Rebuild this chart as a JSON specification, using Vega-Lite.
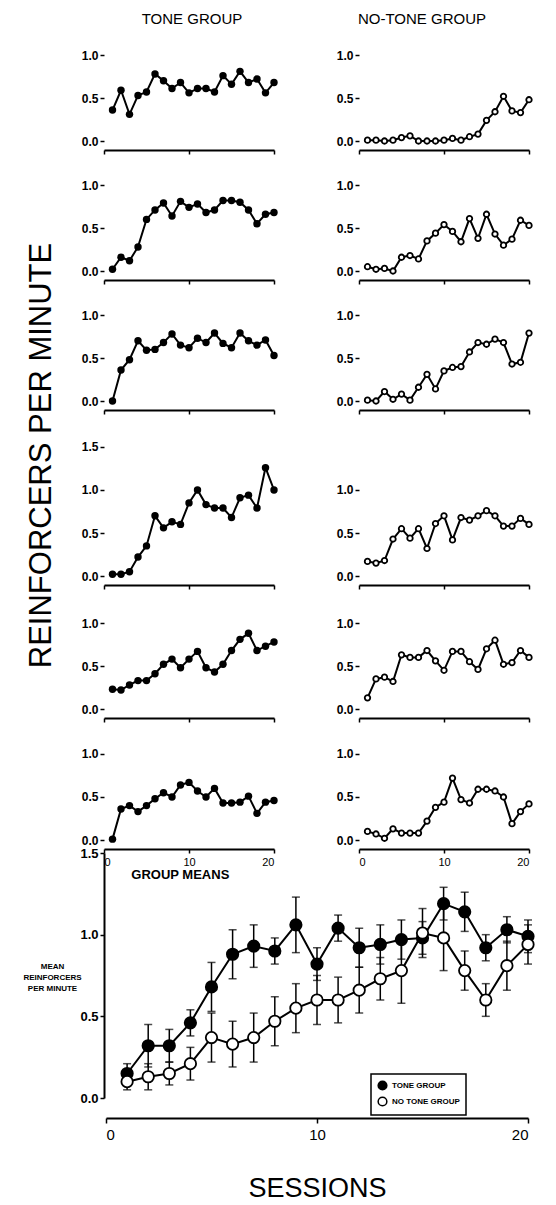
{
"$schema": "https://vega.github.io/schema/vega-lite/v6.json",
"padding": {"left": 22, "top": 12, "right": 5, "bottom": 0},
"background": "white",
"columns": 2,
"align": "each",
"bounds": "flush",
"spacing": {"row": 13, "column": 85},
"datasets": {
"ind": [
{"s":"A2","x":1,"v":0.36},{"s":"A2","x":2,"v":0.59},{"s":"A2","x":3,"v":0.31},{"s":"A2","x":4,"v":0.53},{"s":"A2","x":5,"v":0.57},{"s":"A2","x":6,"v":0.78},{"s":"A2","x":7,"v":0.70},{"s":"A2","x":8,"v":0.61},{"s":"A2","x":9,"v":0.68},{"s":"A2","x":10,"v":0.56},{"s":"A2","x":11,"v":0.61},{"s":"A2","x":12,"v":0.61},{"s":"A2","x":13,"v":0.57},{"s":"A2","x":14,"v":0.76},{"s":"A2","x":15,"v":0.66},{"s":"A2","x":16,"v":0.81},{"s":"A2","x":17,"v":0.68},{"s":"A2","x":18,"v":0.72},{"s":"A2","x":19,"v":0.56},{"s":"A2","x":20,"v":0.68},
{"s":"A4","x":1,"v":0.01},{"s":"A4","x":2,"v":0.01},{"s":"A4","x":3,"v":0.0},{"s":"A4","x":4,"v":0.01},{"s":"A4","x":5,"v":0.04},{"s":"A4","x":6,"v":0.06},{"s":"A4","x":7,"v":0.0},{"s":"A4","x":8,"v":0.0},{"s":"A4","x":9,"v":0.0},{"s":"A4","x":10,"v":0.01},{"s":"A4","x":11,"v":0.03},{"s":"A4","x":12,"v":0.01},{"s":"A4","x":13,"v":0.05},{"s":"A4","x":14,"v":0.08},{"s":"A4","x":15,"v":0.24},{"s":"A4","x":16,"v":0.34},{"s":"A4","x":17,"v":0.52},{"s":"A4","x":18,"v":0.35},{"s":"A4","x":19,"v":0.33},{"s":"A4","x":20,"v":0.48},
{"s":"A7","x":1,"v":0.02},{"s":"A7","x":2,"v":0.16},{"s":"A7","x":3,"v":0.12},{"s":"A7","x":4,"v":0.28},{"s":"A7","x":5,"v":0.60},{"s":"A7","x":6,"v":0.71},{"s":"A7","x":7,"v":0.79},{"s":"A7","x":8,"v":0.64},{"s":"A7","x":9,"v":0.81},{"s":"A7","x":10,"v":0.74},{"s":"A7","x":11,"v":0.78},{"s":"A7","x":12,"v":0.68},{"s":"A7","x":13,"v":0.71},{"s":"A7","x":14,"v":0.82},{"s":"A7","x":15,"v":0.82},{"s":"A7","x":16,"v":0.80},{"s":"A7","x":17,"v":0.71},{"s":"A7","x":18,"v":0.55},{"s":"A7","x":19,"v":0.66},{"s":"A7","x":20,"v":0.68},
{"s":"A1","x":1,"v":0.05},{"s":"A1","x":2,"v":0.02},{"s":"A1","x":3,"v":0.03},{"s":"A1","x":4,"v":0.0},{"s":"A1","x":5,"v":0.16},{"s":"A1","x":6,"v":0.18},{"s":"A1","x":7,"v":0.14},{"s":"A1","x":8,"v":0.35},{"s":"A1","x":9,"v":0.44},{"s":"A1","x":10,"v":0.54},{"s":"A1","x":11,"v":0.46},{"s":"A1","x":12,"v":0.34},{"s":"A1","x":13,"v":0.61},{"s":"A1","x":14,"v":0.38},{"s":"A1","x":15,"v":0.66},{"s":"A1","x":16,"v":0.43},{"s":"A1","x":17,"v":0.30},{"s":"A1","x":18,"v":0.37},{"s":"A1","x":19,"v":0.59},{"s":"A1","x":20,"v":0.53},
{"s":"A9","x":1,"v":0.0},{"s":"A9","x":2,"v":0.36},{"s":"A9","x":3,"v":0.48},{"s":"A9","x":4,"v":0.70},{"s":"A9","x":5,"v":0.59},{"s":"A9","x":6,"v":0.60},{"s":"A9","x":7,"v":0.68},{"s":"A9","x":8,"v":0.78},{"s":"A9","x":9,"v":0.65},{"s":"A9","x":10,"v":0.62},{"s":"A9","x":11,"v":0.73},{"s":"A9","x":12,"v":0.68},{"s":"A9","x":13,"v":0.79},{"s":"A9","x":14,"v":0.67},{"s":"A9","x":15,"v":0.62},{"s":"A9","x":16,"v":0.79},{"s":"A9","x":17,"v":0.70},{"s":"A9","x":18,"v":0.65},{"s":"A9","x":19,"v":0.71},{"s":"A9","x":20,"v":0.53},
{"s":"C18","x":1,"v":0.01},{"s":"C18","x":2,"v":0.0},{"s":"C18","x":3,"v":0.11},{"s":"C18","x":4,"v":0.02},{"s":"C18","x":5,"v":0.08},{"s":"C18","x":6,"v":0.01},{"s":"C18","x":7,"v":0.16},{"s":"C18","x":8,"v":0.31},{"s":"C18","x":9,"v":0.14},{"s":"C18","x":10,"v":0.35},{"s":"C18","x":11,"v":0.39},{"s":"C18","x":12,"v":0.40},{"s":"C18","x":13,"v":0.57},{"s":"C18","x":14,"v":0.68},{"s":"C18","x":15,"v":0.66},{"s":"C18","x":16,"v":0.72},{"s":"C18","x":17,"v":0.68},{"s":"C18","x":18,"v":0.43},{"s":"C18","x":19,"v":0.45},{"s":"C18","x":20,"v":0.79},
{"s":"A12","x":1,"v":0.02},{"s":"A12","x":2,"v":0.02},{"s":"A12","x":3,"v":0.05},{"s":"A12","x":4,"v":0.22},{"s":"A12","x":5,"v":0.35},{"s":"A12","x":6,"v":0.70},{"s":"A12","x":7,"v":0.56},{"s":"A12","x":8,"v":0.63},{"s":"A12","x":9,"v":0.60},{"s":"A12","x":10,"v":0.85},{"s":"A12","x":11,"v":1.0},{"s":"A12","x":12,"v":0.83},{"s":"A12","x":13,"v":0.79},{"s":"A12","x":14,"v":0.79},{"s":"A12","x":15,"v":0.68},{"s":"A12","x":16,"v":0.91},{"s":"A12","x":17,"v":0.94},{"s":"A12","x":18,"v":0.79},{"s":"A12","x":19,"v":1.26},{"s":"A12","x":20,"v":1.0},
{"s":"KA14","x":1,"v":0.17},{"s":"KA14","x":2,"v":0.15},{"s":"KA14","x":3,"v":0.18},{"s":"KA14","x":4,"v":0.43},{"s":"KA14","x":5,"v":0.55},{"s":"KA14","x":6,"v":0.44},{"s":"KA14","x":7,"v":0.55},{"s":"KA14","x":8,"v":0.32},{"s":"KA14","x":9,"v":0.61},{"s":"KA14","x":10,"v":0.70},{"s":"KA14","x":11,"v":0.42},{"s":"KA14","x":12,"v":0.68},{"s":"KA14","x":13,"v":0.65},{"s":"KA14","x":14,"v":0.70},{"s":"KA14","x":15,"v":0.76},{"s":"KA14","x":16,"v":0.70},{"s":"KA14","x":17,"v":0.58},{"s":"KA14","x":18,"v":0.58},{"s":"KA14","x":19,"v":0.67},{"s":"KA14","x":20,"v":0.60},
{"s":"KA17","x":1,"v":0.23},{"s":"KA17","x":2,"v":0.22},{"s":"KA17","x":3,"v":0.28},{"s":"KA17","x":4,"v":0.33},{"s":"KA17","x":5,"v":0.33},{"s":"KA17","x":6,"v":0.41},{"s":"KA17","x":7,"v":0.52},{"s":"KA17","x":8,"v":0.58},{"s":"KA17","x":9,"v":0.48},{"s":"KA17","x":10,"v":0.58},{"s":"KA17","x":11,"v":0.67},{"s":"KA17","x":12,"v":0.48},{"s":"KA17","x":13,"v":0.43},{"s":"KA17","x":14,"v":0.52},{"s":"KA17","x":15,"v":0.68},{"s":"KA17","x":16,"v":0.81},{"s":"KA17","x":17,"v":0.88},{"s":"KA17","x":18,"v":0.68},{"s":"KA17","x":19,"v":0.73},{"s":"KA17","x":20,"v":0.78},
{"s":"KA10","x":1,"v":0.13},{"s":"KA10","x":2,"v":0.35},{"s":"KA10","x":3,"v":0.37},{"s":"KA10","x":4,"v":0.32},{"s":"KA10","x":5,"v":0.63},{"s":"KA10","x":6,"v":0.60},{"s":"KA10","x":7,"v":0.60},{"s":"KA10","x":8,"v":0.68},{"s":"KA10","x":9,"v":0.56},{"s":"KA10","x":10,"v":0.45},{"s":"KA10","x":11,"v":0.67},{"s":"KA10","x":12,"v":0.67},{"s":"KA10","x":13,"v":0.55},{"s":"KA10","x":14,"v":0.46},{"s":"KA10","x":15,"v":0.70},{"s":"KA10","x":16,"v":0.80},{"s":"KA10","x":17,"v":0.52},{"s":"KA10","x":18,"v":0.54},{"s":"KA10","x":19,"v":0.68},{"s":"KA10","x":20,"v":0.60},
{"s":"KA9","x":1,"v":0.01},{"s":"KA9","x":2,"v":0.36},{"s":"KA9","x":3,"v":0.40},{"s":"KA9","x":4,"v":0.33},{"s":"KA9","x":5,"v":0.40},{"s":"KA9","x":6,"v":0.48},{"s":"KA9","x":7,"v":0.55},{"s":"KA9","x":8,"v":0.50},{"s":"KA9","x":9,"v":0.64},{"s":"KA9","x":10,"v":0.67},{"s":"KA9","x":11,"v":0.57},{"s":"KA9","x":12,"v":0.50},{"s":"KA9","x":13,"v":0.60},{"s":"KA9","x":14,"v":0.43},{"s":"KA9","x":15,"v":0.43},{"s":"KA9","x":16,"v":0.44},{"s":"KA9","x":17,"v":0.51},{"s":"KA9","x":18,"v":0.31},{"s":"KA9","x":19,"v":0.44},{"s":"KA9","x":20,"v":0.46},
{"s":"A8","x":1,"v":0.10},{"s":"A8","x":2,"v":0.07},{"s":"A8","x":3,"v":0.02},{"s":"A8","x":4,"v":0.13},{"s":"A8","x":5,"v":0.08},{"s":"A8","x":6,"v":0.08},{"s":"A8","x":7,"v":0.08},{"s":"A8","x":8,"v":0.22},{"s":"A8","x":9,"v":0.38},{"s":"A8","x":10,"v":0.44},{"s":"A8","x":11,"v":0.72},{"s":"A8","x":12,"v":0.47},{"s":"A8","x":13,"v":0.43},{"s":"A8","x":14,"v":0.59},{"s":"A8","x":15,"v":0.59},{"s":"A8","x":16,"v":0.57},{"s":"A8","x":17,"v":0.50},{"s":"A8","x":18,"v":0.19},{"s":"A8","x":19,"v":0.33},{"s":"A8","x":20,"v":0.42}
],
"means": [
{"g":"TONE GROUP","x":1,"m":0.15,"se":0.06},{"g":"TONE GROUP","x":2,"m":0.32,"se":0.13},{"g":"TONE GROUP","x":3,"m":0.32,"se":0.10},{"g":"TONE GROUP","x":4,"m":0.46,"se":0.08},{"g":"TONE GROUP","x":5,"m":0.68,"se":0.15},{"g":"TONE GROUP","x":6,"m":0.88,"se":0.15},{"g":"TONE GROUP","x":7,"m":0.93,"se":0.13},{"g":"TONE GROUP","x":8,"m":0.90,"se":0.08},{"g":"TONE GROUP","x":9,"m":1.06,"se":0.17},{"g":"TONE GROUP","x":10,"m":0.82,"se":0.10},{"g":"TONE GROUP","x":11,"m":1.04,"se":0.08},{"g":"TONE GROUP","x":12,"m":0.92,"se":0.12},{"g":"TONE GROUP","x":13,"m":0.94,"se":0.12},{"g":"TONE GROUP","x":14,"m":0.97,"se":0.12},{"g":"TONE GROUP","x":15,"m":0.98,"se":0.10},{"g":"TONE GROUP","x":16,"m":1.19,"se":0.10},{"g":"TONE GROUP","x":17,"m":1.14,"se":0.12},{"g":"TONE GROUP","x":18,"m":0.92,"se":0.08},{"g":"TONE GROUP","x":19,"m":1.03,"se":0.08},{"g":"TONE GROUP","x":20,"m":0.99,"se":0.10},
{"g":"NO TONE GROUP","x":1,"m":0.10,"se":0.05},{"g":"NO TONE GROUP","x":2,"m":0.13,"se":0.08},{"g":"NO TONE GROUP","x":3,"m":0.15,"se":0.07},{"g":"NO TONE GROUP","x":4,"m":0.21,"se":0.10},{"g":"NO TONE GROUP","x":5,"m":0.37,"se":0.15},{"g":"NO TONE GROUP","x":6,"m":0.33,"se":0.14},{"g":"NO TONE GROUP","x":7,"m":0.37,"se":0.15},{"g":"NO TONE GROUP","x":8,"m":0.47,"se":0.15},{"g":"NO TONE GROUP","x":9,"m":0.55,"se":0.15},{"g":"NO TONE GROUP","x":10,"m":0.60,"se":0.15},{"g":"NO TONE GROUP","x":11,"m":0.60,"se":0.14},{"g":"NO TONE GROUP","x":12,"m":0.66,"se":0.14},{"g":"NO TONE GROUP","x":13,"m":0.73,"se":0.13},{"g":"NO TONE GROUP","x":14,"m":0.78,"se":0.20},{"g":"NO TONE GROUP","x":15,"m":1.01,"se":0.15},{"g":"NO TONE GROUP","x":16,"m":0.98,"se":0.20},{"g":"NO TONE GROUP","x":17,"m":0.78,"se":0.12},{"g":"NO TONE GROUP","x":18,"m":0.60,"se":0.10},{"g":"NO TONE GROUP","x":19,"m":0.81,"se":0.15},{"g":"NO TONE GROUP","x":20,"m":0.94,"se":0.12}
]
},
"concat": [
{"width": 170, "height": 86, "title": {"text": "TONE GROUP", "offset": 22, "dx": 3},
 "data": {"name": "ind"}, "transform": [{"filter": "datum.s === 'A2'"}],
 "encoding": {"x": {"field": "x", "type": "quantitative", "scale": {"domain": [0, 20], "nice": false}, "axis": {"values": [0, 10, 20], "labels": false, "offset": 9, "title": null}},
              "y": {"field": "v", "type": "quantitative", "scale": {"domain": [0, 1], "nice": false}, "axis": {"values": [0, 0.5, 1], "format": ".1f", "title": null, "domain": false}}},
 "layer": [
  {"data": {"values": [{"l": "axis"}]}, "mark": {"type": "rule", "color": "black", "strokeWidth": 2}, "encoding": {"x": {"datum": 0}, "y": {"datum": 0}, "y2": {"datum": 1}}},
  {"mark": {"type": "line", "color": "black", "strokeWidth": 2}},
  {"mark": {"type": "point", "filled": true, "color": "black", "size": 55, "opacity": 1}},
  {"data": {"values": [{"l": "A2"}]}, "mark": {"type": "text", "align": "left", "baseline": "middle", "fontWeight": "bold", "fontSize": 12}, "encoding": {"x": {"datum": 2.2}, "y": {"datum": 0.91}, "text": {"field": "l"}}}
 ]},
{"width": 170, "height": 86, "title": {"text": "NO-TONE GROUP", "offset": 22, "dx": -22},
 "data": {"name": "ind"}, "transform": [{"filter": "datum.s === 'A4'"}],
 "encoding": {"x": {"field": "x", "type": "quantitative", "scale": {"domain": [0, 20], "nice": false}, "axis": {"values": [0, 10, 20], "labels": false, "offset": 9, "title": null}},
              "y": {"field": "v", "type": "quantitative", "scale": {"domain": [0, 1], "nice": false}, "axis": {"values": [0, 0.5, 1], "format": ".1f", "title": null, "domain": false}}},
 "layer": [
  {"data": {"values": [{"l": "axis"}]}, "mark": {"type": "rule", "color": "black", "strokeWidth": 2}, "encoding": {"x": {"datum": 0}, "y": {"datum": 0}, "y2": {"datum": 1}}},
  {"mark": {"type": "line", "color": "black", "strokeWidth": 2}},
  {"mark": {"type": "point", "filled": true, "fill": "white", "stroke": "black", "strokeWidth": 1.8, "size": 30, "opacity": 1}},
  {"data": {"values": [{"l": "A4"}]}, "mark": {"type": "text", "align": "left", "baseline": "middle", "fontWeight": "bold", "fontSize": 12}, "encoding": {"x": {"datum": 2}, "y": {"datum": 0.91}, "text": {"field": "l"}}}
 ]},
{"width": 170, "height": 117,
 "data": {"name": "ind"}, "transform": [{"filter": "datum.s === 'A7'"}],
 "encoding": {"x": {"field": "x", "type": "quantitative", "scale": {"domain": [0, 20], "nice": false}, "axis": {"values": [0, 10, 20], "labels": false, "offset": 9, "title": null}},
              "y": {"field": "v", "type": "quantitative", "scale": {"domain": [0, 1.36047], "nice": false}, "axis": {"values": [0, 0.5, 1], "format": ".1f", "title": null, "domain": false}}},
 "layer": [
  {"data": {"values": [{"l": "axis"}]}, "mark": {"type": "rule", "color": "black", "strokeWidth": 2}, "encoding": {"x": {"datum": 0}, "y": {"datum": 0}, "y2": {"datum": 1}}},
  {"mark": {"type": "line", "color": "black", "strokeWidth": 2}},
  {"mark": {"type": "point", "filled": true, "color": "black", "size": 55, "opacity": 1}},
  {"data": {"values": [{"l": "A7"}]}, "mark": {"type": "text", "align": "left", "baseline": "middle", "fontWeight": "bold", "fontSize": 12}, "encoding": {"x": {"datum": 2.2}, "y": {"datum": 0.91}, "text": {"field": "l"}}}
 ]},
{"width": 170, "height": 117,
 "data": {"name": "ind"}, "transform": [{"filter": "datum.s === 'A1'"}],
 "encoding": {"x": {"field": "x", "type": "quantitative", "scale": {"domain": [0, 20], "nice": false}, "axis": {"values": [0, 10, 20], "labels": false, "offset": 9, "title": null}},
              "y": {"field": "v", "type": "quantitative", "scale": {"domain": [0, 1.36047], "nice": false}, "axis": {"values": [0, 0.5, 1], "format": ".1f", "title": null, "domain": false}}},
 "layer": [
  {"data": {"values": [{"l": "axis"}]}, "mark": {"type": "rule", "color": "black", "strokeWidth": 2}, "encoding": {"x": {"datum": 0}, "y": {"datum": 0}, "y2": {"datum": 1}}},
  {"mark": {"type": "line", "color": "black", "strokeWidth": 2}},
  {"mark": {"type": "point", "filled": true, "fill": "white", "stroke": "black", "strokeWidth": 1.8, "size": 30, "opacity": 1}},
  {"data": {"values": [{"l": "A1"}]}, "mark": {"type": "text", "align": "left", "baseline": "middle", "fontWeight": "bold", "fontSize": 12}, "encoding": {"x": {"datum": 2}, "y": {"datum": 0.91}, "text": {"field": "l"}}}
 ]},
{"width": 170, "height": 117,
 "data": {"name": "ind"}, "transform": [{"filter": "datum.s === 'A9'"}],
 "encoding": {"x": {"field": "x", "type": "quantitative", "scale": {"domain": [0, 20], "nice": false}, "axis": {"values": [0, 10, 20], "labels": false, "offset": 9, "title": null}},
              "y": {"field": "v", "type": "quantitative", "scale": {"domain": [0, 1.36047], "nice": false}, "axis": {"values": [0, 0.5, 1], "format": ".1f", "title": null, "domain": false}}},
 "layer": [
  {"data": {"values": [{"l": "axis"}]}, "mark": {"type": "rule", "color": "black", "strokeWidth": 2}, "encoding": {"x": {"datum": 0}, "y": {"datum": 0}, "y2": {"datum": 1}}},
  {"mark": {"type": "line", "color": "black", "strokeWidth": 2}},
  {"mark": {"type": "point", "filled": true, "color": "black", "size": 55, "opacity": 1}},
  {"data": {"values": [{"l": "A9"}]}, "mark": {"type": "text", "align": "left", "baseline": "middle", "fontWeight": "bold", "fontSize": 12}, "encoding": {"x": {"datum": 2.2}, "y": {"datum": 0.91}, "text": {"field": "l"}}}
 ]},
{"width": 170, "height": 117,
 "data": {"name": "ind"}, "transform": [{"filter": "datum.s === 'C18'"}],
 "encoding": {"x": {"field": "x", "type": "quantitative", "scale": {"domain": [0, 20], "nice": false}, "axis": {"values": [0, 10, 20], "labels": false, "offset": 9, "title": null}},
              "y": {"field": "v", "type": "quantitative", "scale": {"domain": [0, 1.36047], "nice": false}, "axis": {"values": [0, 0.5, 1], "format": ".1f", "title": null, "domain": false}}},
 "layer": [
  {"data": {"values": [{"l": "axis"}]}, "mark": {"type": "rule", "color": "black", "strokeWidth": 2}, "encoding": {"x": {"datum": 0}, "y": {"datum": 0}, "y2": {"datum": 1}}},
  {"mark": {"type": "line", "color": "black", "strokeWidth": 2}},
  {"mark": {"type": "point", "filled": true, "fill": "white", "stroke": "black", "strokeWidth": 1.8, "size": 30, "opacity": 1}},
  {"data": {"values": [{"l": "C18"}]}, "mark": {"type": "text", "align": "left", "baseline": "middle", "fontWeight": "bold", "fontSize": 12}, "encoding": {"x": {"datum": 2}, "y": {"datum": 0.91}, "text": {"field": "l"}}}
 ]},
{"width": 170, "height": 162,
 "data": {"name": "ind"}, "transform": [{"filter": "datum.s === 'A12'"}],
 "encoding": {"x": {"field": "x", "type": "quantitative", "scale": {"domain": [0, 20], "nice": false}, "axis": {"values": [0, 10, 20], "labels": false, "offset": 9, "title": null}},
              "y": {"field": "v", "type": "quantitative", "scale": {"domain": [0, 1.88372], "nice": false}, "axis": {"values": [0, 0.5, 1, 1.5], "format": ".1f", "domain": false, "title": "REINFORCERS PER MINUTE", "titleFontSize": 31, "titleFontWeight": "normal", "titleColor": "black", "titleAngle": 270, "titleAlign": "center", "titleBaseline": "middle", "titleX": -63, "titleY": 41}}},
 "layer": [
  {"data": {"values": [{"l": "axis"}]}, "mark": {"type": "rule", "color": "black", "strokeWidth": 2}, "encoding": {"x": {"datum": 0}, "y": {"datum": 0}, "y2": {"datum": 1.5}}},
  {"mark": {"type": "line", "color": "black", "strokeWidth": 2}},
  {"mark": {"type": "point", "filled": true, "color": "black", "size": 55, "opacity": 1}},
  {"data": {"values": [{"l": "A12"}]}, "mark": {"type": "text", "align": "left", "baseline": "middle", "fontWeight": "bold", "fontSize": 12}, "encoding": {"x": {"datum": 2.2}, "y": {"datum": 1.36}, "text": {"field": "l"}}}
 ]},
{"width": 170, "height": 162,
 "data": {"name": "ind"}, "transform": [{"filter": "datum.s === 'KA14'"}],
 "encoding": {"x": {"field": "x", "type": "quantitative", "scale": {"domain": [0, 20], "nice": false}, "axis": {"values": [0, 10, 20], "labels": false, "offset": 9, "title": null}},
              "y": {"field": "v", "type": "quantitative", "scale": {"domain": [0, 1.88372], "nice": false}, "axis": {"values": [0, 0.5, 1], "format": ".1f", "title": null, "domain": false}}},
 "layer": [
  {"data": {"values": [{"l": "axis"}]}, "mark": {"type": "rule", "color": "black", "strokeWidth": 2}, "encoding": {"x": {"datum": 0}, "y": {"datum": 0}, "y2": {"datum": 1}}},
  {"mark": {"type": "line", "color": "black", "strokeWidth": 2}},
  {"mark": {"type": "point", "filled": true, "fill": "white", "stroke": "black", "strokeWidth": 1.8, "size": 30, "opacity": 1}},
  {"data": {"values": [{"l": "KA14"}]}, "mark": {"type": "text", "align": "left", "baseline": "middle", "fontWeight": "bold", "fontSize": 12}, "encoding": {"x": {"datum": 2}, "y": {"datum": 0.88}, "text": {"field": "l"}}}
 ]},
{"width": 170, "height": 120,
 "data": {"name": "ind"}, "transform": [{"filter": "datum.s === 'KA17'"}],
 "encoding": {"x": {"field": "x", "type": "quantitative", "scale": {"domain": [0, 20], "nice": false}, "axis": {"values": [0, 10, 20], "labels": false, "offset": 9, "title": null}},
              "y": {"field": "v", "type": "quantitative", "scale": {"domain": [0, 1.39535], "nice": false}, "axis": {"values": [0, 0.5, 1], "format": ".1f", "title": null, "domain": false}}},
 "layer": [
  {"data": {"values": [{"l": "axis"}]}, "mark": {"type": "rule", "color": "black", "strokeWidth": 2}, "encoding": {"x": {"datum": 0}, "y": {"datum": 0}, "y2": {"datum": 1}}},
  {"mark": {"type": "line", "color": "black", "strokeWidth": 2}},
  {"mark": {"type": "point", "filled": true, "color": "black", "size": 55, "opacity": 1}},
  {"data": {"values": [{"l": "KA17"}]}, "mark": {"type": "text", "align": "left", "baseline": "middle", "fontWeight": "bold", "fontSize": 12}, "encoding": {"x": {"datum": 2.2}, "y": {"datum": 0.9}, "text": {"field": "l"}}}
 ]},
{"width": 170, "height": 120,
 "data": {"name": "ind"}, "transform": [{"filter": "datum.s === 'KA10'"}],
 "encoding": {"x": {"field": "x", "type": "quantitative", "scale": {"domain": [0, 20], "nice": false}, "axis": {"values": [0, 10, 20], "labels": false, "offset": 9, "title": null}},
              "y": {"field": "v", "type": "quantitative", "scale": {"domain": [0, 1.39535], "nice": false}, "axis": {"values": [0, 0.5, 1], "format": ".1f", "title": null, "domain": false}}},
 "layer": [
  {"data": {"values": [{"l": "axis"}]}, "mark": {"type": "rule", "color": "black", "strokeWidth": 2}, "encoding": {"x": {"datum": 0}, "y": {"datum": 0}, "y2": {"datum": 1}}},
  {"mark": {"type": "line", "color": "black", "strokeWidth": 2}},
  {"mark": {"type": "point", "filled": true, "fill": "white", "stroke": "black", "strokeWidth": 1.8, "size": 30, "opacity": 1}},
  {"data": {"values": [{"l": "KA10"}]}, "mark": {"type": "text", "align": "left", "baseline": "middle", "fontWeight": "bold", "fontSize": 12}, "encoding": {"x": {"datum": 2}, "y": {"datum": 0.9}, "text": {"field": "l"}}}
 ]},
{"width": 170, "height": 118,
 "data": {"name": "ind"}, "transform": [{"filter": "datum.s === 'KA9'"}],
 "encoding": {"x": {"field": "x", "type": "quantitative", "scale": {"domain": [0, 20], "nice": false}, "axis": {"values": [0, 10, 20], "offset": 9, "title": null, "labelFontSize": 11, "labelFontWeight": "normal", "labelPadding": 3}},
              "y": {"field": "v", "type": "quantitative", "scale": {"domain": [0, 1.37209], "nice": false}, "axis": {"values": [0, 0.5, 1], "format": ".1f", "title": null, "domain": false}}},
 "layer": [
  {"data": {"values": [{"l": "axis"}]}, "mark": {"type": "rule", "color": "black", "strokeWidth": 2}, "encoding": {"x": {"datum": 0}, "y": {"datum": 0}, "y2": {"datum": 1}}},
  {"mark": {"type": "line", "color": "black", "strokeWidth": 2}},
  {"mark": {"type": "point", "filled": true, "color": "black", "size": 55, "opacity": 1}},
  {"data": {"values": [{"l": "KA9"}]}, "mark": {"type": "text", "align": "left", "baseline": "middle", "fontWeight": "bold", "fontSize": 12}, "encoding": {"x": {"datum": 2.2}, "y": {"datum": 0.9}, "text": {"field": "l"}}}
 ]},
{"width": 170, "height": 118,
 "data": {"name": "ind"}, "transform": [{"filter": "datum.s === 'A8'"}],
 "encoding": {"x": {"field": "x", "type": "quantitative", "scale": {"domain": [0, 20], "nice": false}, "axis": {"values": [0, 10, 20], "offset": 9, "title": null, "labelFontSize": 11, "labelFontWeight": "normal", "labelPadding": 3}},
              "y": {"field": "v", "type": "quantitative", "scale": {"domain": [0, 1.37209], "nice": false}, "axis": {"values": [0, 0.5, 1], "format": ".1f", "title": null, "domain": false}}},
 "layer": [
  {"data": {"values": [{"l": "axis"}]}, "mark": {"type": "rule", "color": "black", "strokeWidth": 2}, "encoding": {"x": {"datum": 0}, "y": {"datum": 0}, "y2": {"datum": 1}}},
  {"mark": {"type": "line", "color": "black", "strokeWidth": 2}},
  {"mark": {"type": "point", "filled": true, "fill": "white", "stroke": "black", "strokeWidth": 1.8, "size": 30, "opacity": 1}},
  {"data": {"values": [{"l": "A8"}]}, "mark": {"type": "text", "align": "left", "baseline": "middle", "fontWeight": "bold", "fontSize": 12}, "encoding": {"x": {"datum": 2}, "y": {"datum": 0.9}, "text": {"field": "l"}}}
 ]},
{
"width": 170, "height": 245,
"data": {"name": "means"},
"layer": [
 {"mark": {"type": "errorbar", "ticks": {"size": 8}, "color": "black", "thickness": 1.5},
  "encoding": {"x": {"field": "x", "type": "quantitative", "scale": {"domain": [0, 20], "nice": false, "range": [2, 424]}, "axis": {"values": [0, 10, 20], "offset": 20, "title": "SESSIONS", "titleFontSize": 27, "titleFontWeight": "normal", "titleColor": "black", "titlePadding": 33, "labelFontSize": 15, "labelFontWeight": "normal", "tickSize": 5, "labelPadding": 4}},
               "y": {"field": "m", "type": "quantitative", "scale": {"domain": [0, 1.5], "nice": false}, "axis": {"values": [0, 0.5, 1, 1.5], "format": ".1f", "labelFontSize": 13, "title": ["MEAN", "REINFORCERS", "PER MINUTE"], "titleFontSize": 8, "titleFontWeight": "bold", "titleColor": "black", "titleAngle": 0, "titleAlign": "center", "titleBaseline": "top", "titleLineHeight": 11, "titleX": -52, "titleY": 109}},
               "yError": {"field": "se"}}},
 {"mark": {"type": "line", "color": "black", "strokeWidth": 2},
  "encoding": {"x": {"field": "x", "type": "quantitative"}, "y": {"field": "m", "type": "quantitative"}, "detail": {"field": "g"}}},
 {"mark": {"type": "point", "filled": true, "stroke": "black", "strokeWidth": 1.8, "size": 130, "opacity": 1},
  "encoding": {"x": {"field": "x", "type": "quantitative"}, "y": {"field": "m", "type": "quantitative"},
               "fill": {"field": "g", "type": "nominal", "scale": {"domain": ["TONE GROUP", "NO TONE GROUP"], "range": ["black", "white"]},
                        "legend": {"orient": "none", "legendX": 267, "legendY": 1019, "title": null, "strokeColor": "black", "padding": 6, "labelFontSize": 8, "labelFontWeight": "bold", "labelColor": "black", "symbolType": "circle", "symbolStrokeColor": "black", "symbolStrokeWidth": 1.5, "symbolSize": 75, "rowPadding": 1}}}},
 {"data": {"values": [{"l": "GROUP MEANS"}]}, "mark": {"type": "text", "align": "left", "baseline": "middle", "fontWeight": "bold", "fontSize": 13},
  "encoding": {"x": {"datum": 1.2}, "y": {"datum": 1.365}, "text": {"field": "l"}}}
]
}
],
"config": {
 "view": {"stroke": null},
 "font": "Liberation Sans",
 "axis": {"domainColor": "black", "domainWidth": 2, "tickColor": "black", "tickWidth": 1.5, "tickSize": 4, "labelColor": "black", "labelFont": "Liberation Sans", "labelFontSize": 12, "labelFontWeight": "bold", "labelPadding": 2, "grid": false, "titleFont": "Liberation Sans"},
 "title": {"font": "Liberation Sans", "fontWeight": "normal", "fontSize": 15, "color": "black"},
 "legend": {"strokeWidth": 1.5, "labelFont": "Liberation Sans"},
 "text": {"font": "Liberation Sans", "color": "black"}
}
}
